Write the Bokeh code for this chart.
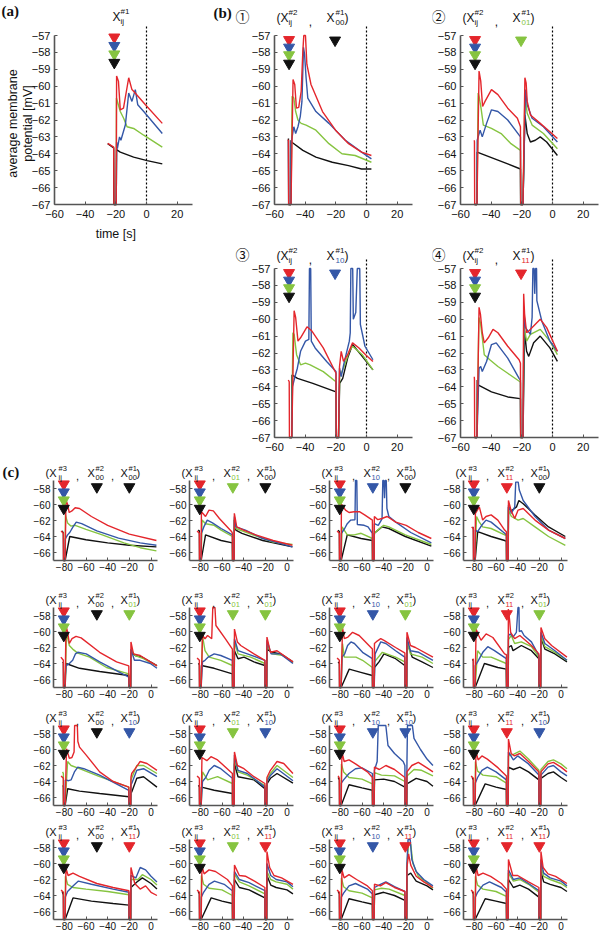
from bokeh.plotting import figure
from bokeh.models import Label, FixedTicker, Spacer, LinearAxis
from bokeh.core.properties import value
from bokeh.layouts import row, column
from bokeh.embed import file_html
from bokeh.resources import INLINE

# ======================= DATA =======================
ART_DEPTH = -67.0            # stimulus artefact runs down to the time axis
IJ_COLORS_ORDER = ["red", "blue", "green", "black"]
CODE_NAMES = {"00": "black", "01": "green", "10": "blue", "11": "red"}

# ---- panel (a) ----
A_STIM = [-20.5]
A_IJ_X = -21.0
A_IJ_Y = [-57.1, -57.6, -58.1, -58.6]
A_RED = [(-25.3, -63.38), (-21.4, -63.6), (-19.5, -59.4), (-18.3, -59.7), (-17.1, -61.4), (-15.0, -61.3),
         (-11.6, -59.5), (-9.5, -60.2), (-8.4, -60.3), (-0.7, -61.1), (10.3, -62.2)]
A_BLUE = [(-19.5, -63.3), (-19.0, -63.7), (-17.6, -63.0), (-16.7, -63.2), (-13.8, -62.3), (-11.6, -60.4),
          (-9.5, -60.9), (-7.3, -60.2), (-5.7, -61.1), (-1.8, -61.5), (10.3, -62.8)]
A_GREEN = [(-19.6, -60.7), (-17.1, -61.5), (-14.9, -61.9), (-12.7, -62.4), (-8.4, -62.5), (-1.8, -62.9),
           (10.3, -63.6)]
A_BLACK = [(-25.3, -63.4), (-21.4, -63.65), (-19.5, -63.75), (-17.1, -63.9), (-8.4, -64.2), (0.4, -64.4),
           (10.3, -64.6)]

# ---- panel (b) ----
B_X1_CODES = ["00", "01", "10", "11"]
B_NUMBERS = ["\u2460", "\u2461", "\u2462", "\u2463"]
B_IJ_X = -50.5
B_X1_X = -20.5
B_IJ_Y = [-57.25, -57.7, -58.15, -58.65]
B_X1_Y = -57.28

B1_STIM = [-50.0]
B1_RED = [(-51.5, -63.2), (-50.9, -63.2), (-47.9, -59.6), (-46.8, -59.9), (-45.7, -61.3), (-44.2, -61.25),
          (-42.6, -60.3), (-41.5, -57.9), (-40.9, -57.0), (-39.8, -57.0), (-38.9, -58.7), (-36.2, -59.9),
          (-28.7, -61.5), (-20.2, -62.6), (-11.7, -63.4), (-3.2, -63.9), (3.2, -64.1)]
B1_BLUE = [(-50.9, -63.2), (-49.2, -63.4), (-47.4, -62.4), (-46.2, -62.8), (-44.7, -62.4), (-43.2, -61.8),
           (-42.1, -60.9), (-41.1, -57.7), (-40.4, -58.1), (-39.4, -59.5), (-38.3, -60.7), (-33.0, -61.5),
           (-24.5, -62.2), (-13.8, -63.2), (-3.2, -63.9), (3.2, -64.3)]
B1_GREEN = [(-48.5, -60.6), (-47.4, -60.7), (-46.2, -61.5), (-44.7, -62.0), (-42.6, -62.2), (-39.4, -62.3),
            (-33.0, -62.6), (-24.5, -63.4), (-16.0, -64.0), (-7.4, -64.1), (3.2, -64.5)]
B1_BLACK = [(-50.9, -63.1), (-49.2, -63.2), (-48.9, -63.3), (-41.5, -63.8), (-33.0, -64.2), (-22.3, -64.5),
            (-11.7, -64.7), (-3.2, -64.9), (3.2, -64.9)]

B2_STIM = [-50.0, -20.0]
B2_RED = [(-51.0, -63.2), (-50.9, -63.3), (-47.9, -59.1), (-46.8, -59.7), (-45.6, -61.2), (-44.0, -60.9),
          (-39.8, -60.2), (-35.6, -60.5), (-29.2, -61.3), (-22.9, -61.9), (-20.9, -62.4), (-18.0, -59.5),
          (-17.2, -59.8), (-16.5, -60.9), (-14.4, -61.7), (-8.0, -62.2), (-1.7, -62.7), (3.2, -63.1)]
B2_BLUE = [(-49.1, -63.2), (-47.2, -62.6), (-45.8, -63.0), (-43.0, -62.2), (-39.8, -61.4), (-35.6, -61.5),
           (-29.2, -62.0), (-20.9, -63.0), (-17.6, -60.2), (-16.5, -61.1), (-13.3, -61.9), (-5.9, -62.4),
           (3.2, -63.3)]
B2_GREEN = [(-48.5, -60.4), (-47.9, -60.6), (-46.6, -61.3), (-45.1, -62.3), (-39.8, -62.5), (-33.5, -62.8),
            (-27.1, -63.4), (-20.9, -63.8), (-18.0, -60.6), (-16.5, -61.6), (-13.3, -62.3), (-5.9, -62.8),
            (3.2, -63.7)]
B2_BLACK = [(-49.1, -63.9), (-46.2, -64.0), (-37.7, -64.3), (-29.2, -64.6), (-20.9, -64.9), (-18.0, -61.7),
            (-16.5, -62.8), (-14.4, -63.3), (-11.2, -63.2), (-8.0, -63.0), (-3.8, -63.3), (3.2, -64.1)]

B3_STIM = [-49.5, -19.0]
B3_RED = [(-51.0, -63.6), (-50.4, -63.7), (-47.2, -59.5), (-46.2, -59.9), (-44.7, -61.3), (-43.0, -61.1),
          (-38.8, -60.45), (-35.6, -60.7), (-28.2, -61.7), (-19.9, -63.2), (-17.6, -62.8), (-16.5, -61.9),
          (-15.0, -62.5), (-12.3, -62.1), (-9.1, -61.4), (-4.9, -61.7), (-0.6, -62.1), (4.2, -62.5)]
B3_BLUE = [(-48.3, -64.0), (-46.8, -63.45), (-45.1, -62.9), (-43.0, -61.9), (-39.8, -61.3), (-37.6, -61.2),
           (-37.2, -57.0), (-36.4, -57.0), (-36.0, -61.3), (-33.5, -61.7), (-26.0, -62.5), (-19.9, -63.1),
           (-17.6, -62.9), (-16.5, -63.4), (-14.4, -62.5), (-11.2, -61.3), (-10.6, -60.8), (-10.2, -57.0),
           (-9.0, -57.0), (-8.6, -60.0), (-7.0, -59.6), (-6.0, -57.0), (-4.4, -57.0), (-4.0, -60.3),
           (-1.0, -61.6), (4.2, -62.4)]
B3_GREEN = [(-48.0, -60.8), (-47.2, -60.9), (-45.6, -62.1), (-43.0, -62.7), (-39.8, -62.6), (-36.7, -62.7),
            (-28.2, -63.1), (-19.9, -63.7), (-17.5, -63.4), (-15.0, -62.9), (-11.2, -61.9), (-9.1, -61.6),
            (-2.8, -62.1), (4.2, -63.0)]
B3_BLACK = [(-48.6, -63.3), (-45.0, -63.5), (-35.0, -63.8), (-19.9, -64.3), (-17.5, -63.8), (-15.5, -63.5),
            (-12.3, -62.3), (-9.1, -61.5), (-2.8, -62.2), (4.2, -63.0)]

B4_STIM = [-50.0, -20.0]
B4_RED = [(-51.0, -63.4), (-50.9, -63.6), (-47.9, -59.3), (-47.0, -59.7), (-45.8, -60.8), (-44.5, -61.4),
          (-41.9, -61.1), (-38.8, -60.6), (-35.6, -60.8), (-29.2, -61.6), (-21.8, -62.4), (-20.9, -62.6),
          (-18.8, -58.5), (-18.2, -59.7), (-16.9, -60.8), (-15.5, -60.7), (-12.3, -60.4), (-8.0, -60.0),
          (-3.8, -60.5), (3.2, -61.9)]
B4_BLUE = [(-47.9, -62.9), (-46.8, -62.8), (-45.8, -63.1), (-43.0, -62.5), (-39.8, -61.5), (-36.7, -61.4),
           (-29.2, -62.3), (-21.8, -63.5), (-20.9, -63.6), (-18.6, -59.7), (-17.6, -60.5), (-14.4, -60.9),
           (-13.3, -59.9), (-12.8, -57.0), (-12.0, -57.0), (-11.6, -58.5), (-11.0, -57.0), (-10.4, -57.0),
           (-10.2, -58.9), (-7.0, -60.1), (-1.7, -61.3), (3.2, -61.9)]
B4_GREEN = [(-48.0, -59.9), (-47.0, -60.2), (-45.8, -61.1), (-44.5, -62.1), (-40.9, -62.4), (-35.6, -62.8),
            (-29.2, -63.2), (-21.2, -63.7), (-20.9, -63.75), (-18.6, -60.4), (-16.9, -61.3), (-14.4, -60.9),
            (-8.0, -60.6), (-1.7, -61.3), (3.2, -62.1)]
B4_BLACK = [(-49.1, -63.6), (-48.3, -63.9), (-39.8, -64.3), (-29.2, -64.6), (-21.2, -64.7), (-20.9, -64.7),
            (-18.2, -60.7), (-16.9, -61.9), (-15.5, -62.2), (-12.3, -61.4), (-8.0, -61.0), (-1.7, -61.7),
            (3.2, -62.5)]

# ---- panel (c) ----
C_X2_CODES = ["00", "01", "10", "11"]    # per column
C_X1_CODES = ["00", "01", "10", "11"]    # per row
C_STIM_TIMES = [-80.0, -49.5, -19.5]      # X#3, X#2, X#1 stimulus times
C_IJ_X = -80.5
C_X2_X = -50.0
C_X1_X = -20.0
C_IJ_Y = [-57.45, -58.45, -59.45, -60.5]
C_X_Y = -57.8

C11_RED = [(-83, -63.3), (-80.9, -63.6), (-78.5, -59.4), (-77, -60.0), (-75.5, -61.0), (-73, -60.8), (-70, -60.4),
           (-66, -60.5), (-55, -61.5), (-40, -62.6), (-20, -63.7), (5, -64.5)]
C11_BLUE = [(-79.1, -64.3), (-77, -63.8), (-75, -63.5), (-72, -62.8), (-69, -62.2), (-64, -62.4), (-50, -63.3),
            (-30, -64.2), (-10, -64.8), (5, -65.1)]
C11_GREEN = [(-79, -61.3), (-77, -62.3), (-74, -62.7), (-70, -62.6), (-60, -63.1), (-45, -63.8), (-25, -64.8),
             (-10, -65.4), (5, -65.8)]
C11_BLACK = [(-82, -63.3), (-80.9, -63.6), (-75, -64.0), (-60, -64.4), (-40, -64.8), (-20, -65.1), (5, -65.3)]

C12_RED = [(-83, -63.3), (-80.9, -63.6), (-79, -60.9), (-75.2, -61.5), (-72, -60.7), (-68, -60.8), (-62.4, -61.75),
           (-51, -63.4), (-50.4, -63.6), (-48.6, -61.1), (-46.4, -62.8), (-40, -63.2), (-28.8, -63.8),
           (-12.8, -64.5), (5, -65.1)]
C12_BLUE = [(-79, -63.6), (-76.8, -62.8), (-73.6, -61.95), (-68.8, -62.3), (-60.8, -63.0), (-50.4, -63.8),
            (-48.6, -61.5), (-47.2, -62.8), (-38.4, -63.2), (-22.4, -64.25), (5, -65.3)]
C12_GREEN = [(-78.4, -61.95), (-75.2, -62.4), (-67.2, -62.6), (-60.8, -63.2), (-50.4, -64.0), (-48.6, -61.75),
             (-47.2, -63.0), (-35.2, -63.6), (-12.8, -64.7), (5, -65.0)]
C12_BLACK = [(-82, -63.2), (-80.9, -63.3), (-75.2, -63.8), (-60.8, -64.5), (-50.4, -64.8), (-48.6, -61.95),
             (-47.2, -63.2), (-41.6, -63.6), (-22.4, -64.5), (5, -65.3)]

C13_RED = [(-83, -63.3), (-80.9, -63.6), (-79, -59.95), (-75.2, -60.7), (-72, -61.0), (-67.2, -60.9),
           (-62.4, -60.9), (-57.6, -61.3), (-50.4, -61.95), (-48.6, -61.5), (-45.4, -61.9), (-41.6, -61.75),
           (-36.8, -61.5), (-28.8, -62.2), (-19.2, -62.6), (-8, -63.5), (4, -64.25)]
C13_BLUE = [(-79, -63.6), (-76, -63.0), (-73.6, -62.4), (-70.4, -61.95), (-66.5, -61.9), (-66, -57.0),
            (-64.8, -57.0), (-64.3, -62.5), (-58, -62.6), (-54.4, -62.8), (-50.4, -63.6), (-48.6, -62.4),
            (-45, -62.6), (-41.5, -61.8), (-40.8, -57.0), (-39.8, -57.0), (-39.2, -59.2), (-38.6, -57.0),
            (-37.6, -57.0), (-37, -60.5), (-35.2, -61.5), (-28.8, -62.2), (-15, -63.5), (4, -64.8)]
C13_GREEN = [(-78.4, -62.8), (-73.6, -63.8), (-67.2, -63.8), (-60.8, -63.6), (-50.4, -64.25), (-48.6, -63.6),
             (-45.4, -63.2), (-40, -62.6), (-35.2, -62.8), (-20, -63.8), (4, -65.0)]
C13_BLACK = [(-82, -63.2), (-80.9, -63.4), (-73.6, -63.8), (-60.8, -64.25), (-50.4, -64.5), (-48.6, -63.6),
             (-41.6, -62.8), (-35.2, -63.0), (-20, -64.0), (4, -65.2)]

C14_RED = [(-82.5, -62.8), (-80.9, -63.0), (-79, -61.1), (-75.4, -60.3), (-72.3, -61.95), (-69.2, -61.5),
           (-64.5, -61.3), (-58.3, -61.95), (-52, -63.2), (-50.4, -63.4), (-48.5, -59.5), (-46, -60.8),
           (-42.7, -61.75), (-39.6, -60.7), (-34.9, -60.5), (-24, -61.95), (-11.5, -63.2), (4, -64.25)]
C14_BLUE = [(-79, -63.2), (-77, -63.4), (-73.2, -62.6), (-69.2, -61.95), (-64.5, -62.2), (-52, -63.6),
            (-50.4, -63.8), (-48.5, -60.1), (-45.8, -61.1), (-42.7, -60.3), (-41.8, -57.2), (-39.5, -57.2),
            (-38.5, -58.2), (-34.9, -59.5), (-24, -61.5), (-11.5, -63.2), (4, -64.25)]
C14_GREEN = [(-78, -61.5), (-75.4, -62.2), (-72.3, -62.8), (-64.5, -63.0), (-52, -63.8), (-50.4, -63.9),
             (-48.5, -60.7), (-45.8, -61.5), (-39.6, -61.95), (-34.9, -61.75), (-24, -62.8), (-11.5, -64.0),
             (4, -65.1)]
C14_BLACK = [(-81.6, -62.8), (-80.9, -63.0), (-76.9, -63.4), (-64.5, -64.0), (-52, -64.5), (-50.4, -64.6),
             (-48.5, -60.3), (-45.8, -60.8), (-41.1, -60.3), (-38.9, -59.5), (-34.9, -59.9), (-24, -61.3),
             (-11.5, -62.8), (4, -64.0)]

C21_RED = [(-83.2, -63.2), (-80.9, -63.6), (-78.5, -59.25), (-76.9, -60.1), (-75.4, -61.5), (-72.9, -60.9),
           (-69.2, -60.6), (-64.5, -60.8), (-47.4, -62.6), (-31.8, -63.8), (-20.5, -64.3), (-18.5, -61.3),
           (-16.2, -62.8), (-10, -63.0), (-0.6, -63.8), (5.5, -64.3)]
C21_BLUE = [(-79.1, -65.5), (-78.5, -64.3), (-75.4, -64.0), (-72.3, -63.6), (-69.8, -62.8), (-67.6, -62.6),
            (-59.8, -62.8), (-47.4, -63.8), (-20.5, -65.7), (-18.5, -62.2), (-15.3, -63.6), (-10, -63.6),
            (-0.6, -64.0), (5.5, -64.6)]
C21_GREEN = [(-78, -60.1), (-75.4, -61.75), (-72.3, -62.2), (-67.6, -62.7), (-56.7, -63.2), (-41.1, -64.5),
             (-20.5, -65.3), (-18.5, -62.3), (-14.6, -63.0), (-6.9, -63.4), (5.5, -64.3)]
C21_BLACK = [(-81.6, -63.8), (-80.9, -63.9), (-78.5, -64.0), (-66, -64.6), (-47.4, -65.0), (-20.5, -65.5),
             (-18.5, -62.6), (-14.6, -63.0), (-8.4, -63.2), (-0.6, -63.8), (5.5, -64.25)]

C22_RED = [(-83, -63.3), (-80.9, -63.6), (-78, -60.5), (-75.7, -60.9), (-73.3, -60.5), (-69.5, -60.9),
           (-68.5, -57.0), (-66.5, -57.0), (-65.6, -59.25), (-57, -60.9), (-50.4, -62.2), (-48.5, -59.7),
           (-45.8, -61.3), (-42.7, -61.75), (-30.5, -62.8), (-20.4, -63.6), (-18.5, -60.7), (-15.3, -62.6),
           (-9.2, -62.4), (5.5, -63.8)]
C22_BLUE = [(-78, -63.8), (-75.7, -63.6), (-72.7, -63.2), (-67.2, -62.8), (-61.1, -63.0), (-50.4, -63.6),
            (-48.5, -60.9), (-45.2, -62.4), (-36.6, -62.8), (-20.4, -63.6), (-18.5, -61.1), (-14.7, -62.8),
            (-6.1, -62.8), (5.5, -64.0)]
C22_GREEN = [(-78, -60.5), (-75.7, -62.4), (-71.8, -63.2), (-61.1, -63.6), (-50.4, -64.25), (-48.5, -61.3),
             (-45.2, -62.8), (-33.6, -63.2), (-20.4, -64.0), (-18.5, -61.75), (-13.7, -62.8), (-3, -63.0),
             (5.5, -63.9)]
C22_BLACK = [(-82, -64.0), (-80.9, -64.1), (-79, -64.25), (-67.2, -64.6), (-50.4, -65.3), (-48.5, -62.4),
             (-45.2, -63.4), (-39.7, -63.2), (-30.5, -63.8), (-20.4, -64.25), (-18.5, -62.2), (-13.7, -62.6),
             (-6.1, -62.8), (5.5, -63.8)]

C23_RED = [(-83, -63.3), (-80.9, -63.6), (-78, -59.5), (-76.3, -60.9), (-73, -60.7), (-68.7, -60.1),
           (-62.6, -60.5), (-50.4, -62.2), (-48.5, -61.5), (-46, -61.2), (-42.7, -60.9), (-39.7, -61.1),
           (-29, -62.0), (-21.4, -62.6), (-20.4, -62.7), (-18.5, -60.1), (-15.3, -61.75), (-10.7, -62.0),
           (5.5, -63.2)]
C23_BLUE = [(-78.5, -63.2), (-76, -62.8), (-73.3, -61.75), (-70.2, -61.3), (-67, -61.5), (-59.5, -62.6),
            (-50.4, -63.4), (-47.9, -62.8), (-42.7, -61.3), (-38, -61.5), (-29, -62.4), (-20.5, -63.2),
            (-18.5, -60.75), (-15.3, -62.4), (-7.6, -62.6), (5.5, -63.6)]
C23_GREEN = [(-78, -61.5), (-76.3, -63.2), (-71.8, -63.2), (-65.6, -63.2), (-59.5, -63.6), (-50.4, -64.5),
             (-48.5, -63.8), (-41.2, -62.6), (-29, -63.2), (-20.5, -63.8), (-18.5, -61.1), (-15.3, -62.8),
             (-4.6, -63.2), (5.5, -64.0)]
C23_BLACK = [(-82, -63.8), (-80.9, -64.0), (-71.8, -64.7), (-61.1, -65.1), (-50.4, -65.5), (-48.5, -64.5),
             (-44.3, -63.8), (-39.7, -62.8), (-29, -63.4), (-20.5, -64.25), (-18.5, -61.3), (-13.7, -63.2),
             (-4.6, -63.8), (5.5, -64.5)]

C24_RED = [(-81.6, -63.4), (-80.9, -63.5), (-78.4, -59.7), (-76, -60.5), (-73.8, -61.1), (-69.1, -60.3),
           (-62.9, -60.75), (-52.1, -62.8), (-50.4, -62.9), (-48.6, -57.2), (-47.5, -58.5), (-46.5, -60.1),
           (-42.8, -60.9), (-38, -60.5), (-27.3, -61.75), (-20.4, -62.8), (-18.5, -59.5), (-14.9, -60.9),
           (-8.7, -61.75), (5.5, -63.2)]
C24_BLUE = [(-79.1, -64.25), (-77, -63.8), (-72.2, -62.6), (-67.6, -61.9), (-61.4, -62.4), (-50.5, -63.4),
            (-48.5, -60.5), (-46.5, -60.3), (-44.3, -60.7), (-41.2, -60.1), (-39.7, -57.0), (-38.8, -57.0),
            (-38.5, -60.0), (-36.6, -59.9), (-34.1, -60.5), (-27.3, -61.3), (-20.4, -63.0), (-18.5, -60.1),
            (-14.9, -61.5), (-5.6, -62.4), (5.5, -63.6)]
C24_GREEN = [(-77, -62.4), (-72.2, -63.2), (-64.5, -63.2), (-50.5, -64.0), (-48.5, -61.0), (-45.9, -60.5),
             (-42.8, -61.5), (-36.6, -61.3), (-27.3, -61.9), (-20.4, -63.2), (-18.5, -60.5), (-14.9, -61.9),
             (-5.6, -62.6), (5.5, -63.6)]
C24_BLACK = [(-82, -63.5), (-80.9, -63.6), (-70.7, -64.0), (-58.3, -64.5), (-50.5, -64.7), (-48.5, -62.0),
             (-45.9, -61.75), (-44.3, -62.4), (-36.6, -61.75), (-27.3, -62.4), (-20.4, -63.4), (-18.5, -60.75),
             (-14.9, -62.2), (-5.6, -62.8), (5.5, -63.8)]

C31_RED = [(-83, -63.3), (-80.9, -63.6), (-78, -59.9), (-75.4, -61.1), (-73, -61.0), (-71, -60.3), (-70.5, -57.0),
           (-68, -57.0), (-67.5, -59.0), (-66, -59.7), (-59.8, -60.7), (-47.4, -62.8), (-34.9, -64.0),
           (-20.5, -64.7), (-18.5, -63.5), (-17.8, -63.0), (-14.6, -62.4), (-10, -61.5), (-3.7, -61.75),
           (5.5, -62.6)]
C31_BLUE = [(-79.1, -63.8), (-76, -63.9), (-73.8, -63.8), (-70.7, -62.8), (-67.6, -62.2), (-62, -62.4),
            (-47.4, -63.2), (-20.5, -65.1), (-18.5, -64.4), (-17.8, -64.25), (-13.1, -62.6), (-6.9, -62.4),
            (5.5, -63.4)]
C31_GREEN = [(-81.6, -62.8), (-80.9, -63.0), (-77, -61.5), (-73.8, -62.0), (-66, -62.4), (-47.4, -63.4),
             (-20.5, -64.7), (-18.5, -63.8), (-13.1, -62.0), (-6.9, -62.0), (5.5, -63.0)]
C31_BLACK = [(-81.6, -64.5), (-80.9, -64.6), (-76.9, -64.9), (-66, -65.2), (-47.4, -65.5), (-20.5, -65.9),
             (-18.5, -65.4), (-17.8, -65.3), (-13.1, -63.6), (-6.9, -63.4), (5.5, -64.7)]

C32_RED = [(-83, -63.3), (-80.9, -63.6), (-78.5, -61.0), (-74, -61.4), (-70.2, -60.9), (-64.1, -61.3),
           (-50.4, -63.0), (-48.5, -60.3), (-45.8, -62.0), (-39.7, -62.4), (-30.5, -63.4), (-20.4, -64.25),
           (-18.5, -63.5), (-15.3, -62.6), (-9.2, -61.5), (-3, -61.75), (5.5, -63.0)]
C32_BLUE = [(-78, -64.0), (-75, -63.5), (-71.8, -62.6), (-67.2, -62.0), (-61.1, -62.4), (-50.4, -63.6),
            (-48.5, -60.7), (-45.2, -62.6), (-36.6, -63.0), (-20.4, -64.7), (-18.5, -64.0), (-15.3, -63.25),
            (-9.2, -62.4), (5.5, -63.9)]
C32_GREEN = [(-78, -62.8), (-73.3, -63.8), (-64.1, -63.4), (-50.4, -64.25), (-48.5, -61.1), (-45.2, -62.8),
             (-36.6, -63.2), (-20.4, -64.5), (-18.5, -63.8), (-15.3, -63.0), (-9.2, -62.0), (5.5, -63.5)]
C32_BLACK = [(-82, -64.5), (-80.9, -64.6), (-79, -64.7), (-67.2, -65.1), (-50.4, -65.5), (-48.5, -61.75),
             (-45.2, -63.4), (-30.5, -63.8), (-20.4, -64.9), (-18.5, -64.3), (-15.3, -63.6), (-9.2, -63.0),
             (5.5, -64.2)]

C33_RED = [(-82, -63.3), (-80.9, -63.6), (-78.5, -60.3), (-76.5, -61.5), (-72, -61.3), (-66, -61.8), (-55, -62.8),
           (-50.4, -63.5), (-48.5, -62.2), (-44, -62.5), (-38, -62.0), (-30, -62.5), (-20.4, -63.5), (-18.5, -62.8),
           (-14, -62.0), (-8, -61.6), (0, -62.3), (5.5, -62.8)]
C33_BLUE = [(-79.1, -64.2), (-77, -63.8), (-72, -63.0), (-66, -62.4), (-60, -62.3), (-50.4, -63.0), (-48.5, -62.6),
            (-46, -61.5), (-45, -57.0), (-38, -57.0), (-36, -59.5), (-30, -60.5), (-22, -61.5), (-20.4, -62.0),
            (-18.5, -61.5), (-18, -57.0), (-13.5, -57.0), (-12, -58.6), (-6, -60.0), (0, -61.2), (5.5, -62.0)]
C33_GREEN = [(-79, -61.8), (-77, -62.8), (-72, -63.5), (-60, -63.7), (-50.4, -64.3), (-48.5, -62.9), (-42, -63.2),
             (-30, -63.3), (-20.4, -64.0), (-18.5, -63.3), (-12, -62.5), (-5, -62.6), (5.5, -63.3)]
C33_BLACK = [(-82, -63.5), (-80.9, -63.8), (-72, -64.4), (-60, -64.8), (-50.4, -65.1), (-48.5, -63.8), (-40, -63.7),
             (-30, -64.0), (-20.4, -64.7), (-18.5, -64.3), (-10, -63.6), (0, -64.0), (5.5, -64.6)]

C34_RED = [(-83, -63.3), (-80.9, -63.6), (-78.5, -60.2), (-76.5, -61.3), (-73, -60.8), (-68, -61.2), (-58, -62.3),
           (-50.4, -63.3), (-48.5, -58.7), (-46, -60.5), (-43, -60.8), (-38, -60.5), (-30, -61.5), (-20.4, -62.8),
           (-18.5, -62.8), (-12, -61.8), (-7, -61.6), (0, -62.2), (5.5, -62.8)]
C34_BLUE = [(-79.1, -64.2), (-77, -63.5), (-73, -62.6), (-68, -62.2), (-60, -62.8), (-50.4, -63.8), (-48.5, -60.3),
            (-44, -61.3), (-40, -60.8), (-30, -61.8), (-20.4, -63.2), (-18.5, -63.2), (-12, -62.2), (-7, -62.0),
            (0, -62.8), (5.5, -63.3)]
C34_GREEN = [(-79, -61.5), (-77, -62.7), (-72, -63.2), (-60, -63.4), (-50.4, -64.2), (-48.5, -60.8), (-44, -60.6),
             (-38, -60.2), (-30, -61.2), (-20.4, -62.6), (-18.5, -62.5), (-12, -61.5), (-7, -61.3), (0, -61.8),
             (5.5, -62.4)]
C34_BLACK = [(-82, -63.5), (-80.9, -63.8), (-70, -64.3), (-60, -64.7), (-50.4, -65.0), (-48.5, -62.2), (-44, -62.5),
             (-38, -62.2), (-30, -62.8), (-20.4, -63.8), (-18.5, -63.6), (-12, -63.0), (-7, -62.8), (0, -63.5),
             (5.5, -64.0)]

C41_RED = [(-83, -63.3), (-80.9, -63.6), (-78.5, -60.6), (-76.5, -61.5), (-72, -61.2), (-66, -61.6), (-50, -62.5),
           (-35, -63.0), (-20.4, -63.4), (-18.5, -60.5), (-15, -62.5), (-10, -63.2), (-5, -62.8), (0, -63.6),
           (5.5, -64.0)]
C41_BLUE = [(-79.1, -64.2), (-77, -63.5), (-72, -62.8), (-67, -62.2), (-55, -62.6), (-35, -63.2), (-20.4, -63.6),
            (-18.5, -61.5), (-14, -61.8), (-10, -60.5), (-5, -60.8), (0, -61.6), (5.5, -62.3)]
C41_GREEN = [(-79, -61.6), (-77, -62.6), (-72, -63.0), (-60, -63.2), (-40, -63.5), (-20.4, -63.9), (-18.5, -62.0),
             (-12, -62.0), (-8, -61.4), (0, -62.0), (5.5, -62.7)]
C41_BLACK = [(-82, -63.5), (-80.9, -63.9), (-72, -64.3), (-55, -64.7), (-35, -65.0), (-20.4, -65.2),
             (-18.5, -63.0), (-12, -62.2), (-8, -61.8), (0, -62.5), (5.5, -63.2)]

C42_RED = [(-83, -63.3), (-80.9, -63.6), (-78.5, -60.3), (-76.5, -61.3), (-72, -60.8), (-66, -61.0), (-55, -62.0),
           (-50.4, -62.8), (-48.5, -60.2), (-44, -61.5), (-38, -61.6), (-30, -62.2), (-20.4, -63.0), (-18.5, -58.5),
           (-16, -60.5), (-12, -61.5), (-5, -61.8), (5.5, -62.6)]
C42_BLUE = [(-79.1, -64.2), (-77, -63.6), (-72, -62.6), (-67, -62.2), (-58, -62.6), (-50.4, -63.4), (-48.5, -61.0),
            (-44, -62.0), (-35, -62.4), (-20.4, -63.4), (-18.5, -60.0), (-15, -61.5), (-10, -62.0), (0, -62.3),
            (5.5, -62.9)]
C42_GREEN = [(-79, -61.5), (-77, -62.6), (-72, -63.1), (-60, -63.3), (-50.4, -64.0), (-48.5, -61.3), (-44, -62.3),
             (-35, -62.8), (-20.4, -63.8), (-18.5, -61.0), (-15, -62.0), (-10, -62.3), (0, -62.6), (5.5, -63.2)]
C42_BLACK = [(-82, -63.5), (-80.9, -63.8), (-70, -64.3), (-60, -64.7), (-50.4, -65.0), (-48.5, -62.0), (-44, -63.0),
             (-35, -63.3), (-20.4, -64.3), (-18.5, -61.5), (-15, -62.7), (-10, -63.0), (0, -63.3), (5.5, -63.8)]

C43_RED = [(-83, -63.3), (-80.9, -63.6), (-78.5, -60.8), (-76.5, -61.8), (-72, -61.4), (-65, -62.0), (-55, -62.8),
           (-50.4, -63.4), (-48.5, -62.6), (-43, -62.8), (-38, -62.4), (-30, -63.0), (-20.4, -63.5), (-18.5, -60.5),
           (-17, -58.8), (-15, -60.2), (-10, -61.6), (-3, -62.3), (5.5, -63.0)]
C43_BLUE = [(-79.1, -64.2), (-77, -63.7), (-72, -62.8), (-66, -62.5), (-55, -63.2), (-50.4, -63.8), (-48.5, -63.0),
            (-43, -62.6), (-38, -62.3), (-30, -62.9), (-20.4, -63.5), (-18.5, -60.0), (-17.5, -57.0), (-15.5, -57.0),
            (-14, -59.5), (-10, -61.0), (-3, -62.0), (5.5, -62.8)]
C43_GREEN = [(-79, -61.8), (-77, -62.9), (-72, -63.4), (-60, -63.7), (-50.4, -64.3), (-48.5, -63.3), (-42, -63.1),
             (-35, -63.2), (-20.4, -64.0), (-18.5, -60.5), (-17, -57.3), (-15, -57.6), (-13, -60.0), (-8, -61.6),
             (0, -62.4), (5.5, -63.1)]
C43_BLACK = [(-82, -63.5), (-80.9, -63.8), (-72, -64.4), (-60, -64.8), (-50.4, -65.1), (-48.5, -63.9), (-40, -63.6),
             (-30, -64.0), (-20.4, -64.6), (-18.5, -61.5), (-15, -61.2), (-10, -62.2), (0, -62.8), (5.5, -63.3)]

C44_RED = [(-83, -63.3), (-80.9, -63.6), (-78.5, -60.3), (-76.5, -61.5), (-72, -61.2), (-65, -61.6), (-55, -62.5),
           (-50.4, -63.2), (-48.5, -59.5), (-44.5, -61.5), (-40, -61.5), (-30, -62.3), (-20.4, -63.0), (-18.5, -58.5),
           (-16.5, -60.5), (-12, -61.3), (-5, -61.6), (5.5, -62.5)]
C44_BLUE = [(-79.1, -64.2), (-77, -63.6), (-72, -62.7), (-66, -62.3), (-55, -63.0), (-50.4, -63.6), (-48.5, -60.8),
            (-44, -62.0), (-38, -61.8), (-30, -62.5), (-20.4, -63.4), (-18.5, -59.5), (-16, -61.2), (-10, -61.8),
            (0, -62.2), (5.5, -62.8)]
C44_GREEN = [(-79, -61.6), (-77, -62.7), (-72, -63.2), (-60, -63.5), (-50.4, -64.1), (-48.5, -61.2), (-44, -62.2),
             (-38, -62.0), (-30, -62.6), (-20.4, -63.6), (-18.5, -60.3), (-16, -61.6), (-10, -62.0), (0, -62.5),
             (5.5, -63.0)]
C44_BLACK = [(-82, -63.5), (-80.9, -63.8), (-70, -64.4), (-60, -64.7), (-50.4, -65.0), (-48.5, -62.0), (-44, -63.0),
             (-38, -62.7), (-30, -63.2), (-20.4, -64.2), (-18.5, -61.0), (-16, -62.3), (-10, -62.6), (0, -63.0),
             (5.5, -63.5)]

AB_XTICKS = [-60, -40, -20, 0, 20]
AB_YTICKS = [-57, -58, -59, -60, -61, -62, -63, -64, -65, -66, -67]
C_XTICKS = [-80, -60, -40, -20, 0]
C_YTICKS = [-58, -60, -62, -64, -66]
Y_LABEL_LINES = ["average membrane", "potential [mV]"]
X_LABEL = "time [s]"

# ======================= STYLE / LAYOUT =======================
PALETTE = {"red": "#e4262c", "blue": "#3457a7", "green": "#86c440", "black": "#111111"}
AXIS_COLOR = "#555555"
SANS = "Liberation Sans"
ART_HALF_WIDTH = 0.75

AB_X_IN = (-60, 30)                      # data extent of the plotting area
AB_SY = 16.9                             # px per mV
AB_Y_IN = (-67, -67 + 180 / AB_SY)       # plotting area is 180 px tall
C_X_IN = (-90, 6)
C_Y_IN = (-67, -56.5)


class Geo:
    def __init__(self, w, h, l, r, t, b, xin, yin):
        self.w, self.h, self.l, self.r, self.t, self.b = w, h, l, r, t, b
        self.sx = (w - l - r) / (xin[1] - xin[0])
        self.sy = (h - t - b) / (yin[1] - yin[0])
        self.xr = (xin[0] - l / self.sx, xin[1] + r / self.sx)
        self.yr = (yin[0] - b / self.sy, yin[1] + t / self.sy)
        self.xin, self.yin = xin, yin

    def line57(self):
        # px above the canvas bottom of the -57 mV level
        return self.b + (-57 - self.yin[0]) * self.sy

    def dx(self, px):
        return self.xr[0] + px / self.sx

    def dy(self, px):
        return self.yr[0] + px / self.sy


def with_artifacts(points, stims):
    xs = [p[0] for p in points]
    ys = [p[1] for p in points]
    for s in stims:
        i = 0
        while i < len(xs) and xs[i] <= s:
            i += 1
        xs[i:i] = [s - ART_HALF_WIDTH, s + ART_HALF_WIDTH]
        ys[i:i] = [ART_DEPTH, ART_DEPTH]
    return xs, ys


def base_fig(g, xticks, yticks, fpx, std_x, std_y):
    p = figure(width=g.w, height=g.h, x_range=g.xr, y_range=g.yr, output_backend="svg",
               toolbar_location=None, x_axis_location=None, y_axis_location=None,
               min_border_left=0, min_border_right=0, min_border_top=0, min_border_bottom=0)
    p.outline_line_color = None
    p.xgrid.visible = False
    p.ygrid.visible = False
    xa = LinearAxis(fixed_location=g.yin[0], bounds=g.xin, ticker=FixedTicker(ticks=xticks))
    ya = LinearAxis(fixed_location=g.xin[0], bounds=(-67, -57), ticker=FixedTicker(ticks=yticks))
    for ax in (xa, ya):
        ax.axis_line_color = AXIS_COLOR
        ax.axis_line_width = 1.6
        ax.major_tick_line_color = AXIS_COLOR
        ax.major_tick_in = 3
        ax.major_tick_out = 0
        ax.minor_tick_line_color = None
        ax.major_label_text_font = SANS
        ax.major_label_text_font_size = f"{fpx}px"
        ax.major_label_text_color = "#111111"
    xa.major_label_standoff = std_x
    ya.major_label_standoff = std_y
    p.add_layout(xa, "below")
    p.add_layout(ya, "left")
    return p


def lab(p, sx, sy, text, size, color="#111111", align="left", baseline="middle", font=SANS,
        style="normal"):
    """sx: px from the canvas left edge, sy: px above the canvas bottom edge."""
    p.add_layout(Label(x=sx, y=sy, x_units="screen", y_units="screen", text=text,
                       text_font_size=f"{size}px", text_color=color,
                       text_align=align, text_baseline=baseline, text_font=font,
                       text_font_style=style))


def draw_traces(p, red, blue, green, black, stims):
    for pts, name in ((black, "black"), (green, "green"), (blue, "blue"), (red, "red")):
        xs, ys = with_artifacts(pts, stims)
        p.line(xs, ys, line_color=PALETTE[name], line_width=1.4)


def draw_ij(p, x, ys, size):
    p.scatter([x] * len(ys), ys, marker="inverted_triangle", size=size,
              color=[PALETTE[c] for c in IJ_COLORS_ORDER])


# ---------------- panel (a) ----------------
ga = Geo(210, 242, 54, 18, 24, 38, AB_X_IN, AB_Y_IN)
fa = base_fig(ga, AB_XTICKS, AB_YTICKS, 11, 5, 4)
fa.line([0, 0], [-67, AB_Y_IN[1]], line_color="black", line_width=1.2, line_dash="2 2")
draw_traces(fa, A_RED, A_BLUE, A_GREEN, A_BLACK, A_STIM)
draw_ij(fa, A_IJ_X, A_IJ_Y, 11)
top_a = ga.line57()
lab(fa, ga.l + 58, top_a + 19, "X", 12)
lab(fa, ga.l + 66, top_a + 24, "#1", 8)
lab(fa, ga.l + 66, top_a + 14, "ij", 8)
lab(fa, 1, ga.h - 10, "(a)", 15, font="Liberation Serif", style="bold")
lab(fa, ga.l + (-20 - AB_X_IN[0]) * ga.sx, ga.b - 29, X_LABEL, 12.5, align="center")
fa.text(x=[ga.dx(12.5), ga.dx(27.5)], y=[ga.dy(ga.h - 123)] * 2, text=Y_LABEL_LINES, angle=1.5708,
        text_align="center", text_baseline="middle", text_font=value(SANS), text_font_size="12.5px",
        text_color="#111111")

# ---------------- panel (b) ----------------
B_TRACES = [(B1_RED, B1_BLUE, B1_GREEN, B1_BLACK, B1_STIM),
            (B2_RED, B2_BLUE, B2_GREEN, B2_BLACK, B2_STIM),
            (B3_RED, B3_BLUE, B3_GREEN, B3_BLACK, B3_STIM),
            (B4_RED, B4_BLUE, B4_GREEN, B4_BLACK, B4_STIM)]

b_figs = []
for k in range(4):
    left_col = (k % 2 == 0)
    top_row = (k < 2)
    w, lft, rgt = (222, 64, 20) if left_col else (170, 28, 4)
    h, tp, bt = (242, 24, 38) if top_row else (214, 15, 19)
    g = Geo(w, h, lft, rgt, tp, bt, AB_X_IN, AB_Y_IN)
    p = base_fig(g, AB_XTICKS, AB_YTICKS, 11, 5, 4)
    p.line([0, 0], [-67, AB_Y_IN[1]], line_color="black", line_width=1.2, line_dash="2 2")
    r, b, gg, kk, st = B_TRACES[k]
    draw_traces(p, r, b, gg, kk, st)
    draw_ij(p, B_IJ_X, B_IJ_Y, 11)
    code = B_X1_CODES[k]
    p.scatter([B_X1_X], [B_X1_Y], marker="inverted_triangle", size=11, color=PALETTE[CODE_NAMES[code]])
    ty = g.line57() + (18 if top_row else 13)
    L = g.l
    lab(p, L + 2, ty, "(X", 12)
    lab(p, L + 14, ty + 5, "#2", 8)
    lab(p, L + 14, ty - 5, "ij", 8)
    lab(p, L + 36, ty - 4, ",", 12, align="center")
    lab(p, L + 52, ty, "X", 12)
    lab(p, L + 61, ty + 5, "#1", 8)
    lab(p, L + 61, ty - 5, code, 8, color=PALETTE[CODE_NAMES[code]])
    lab(p, L + 70, ty, ")", 12)
    ndx = -32 if left_col else -22
    lab(p, L + ndx, ty + 2, B_NUMBERS[k], 14, align="center", font="Noto Sans CJK JP")
    if k == 0:
        lab(p, L - 61, g.h - 12, "(b)", 15, font="Liberation Serif", style="bold")
    b_figs.append(p)

# ---------------- panel (c) ----------------
C_TRACES = {
    (0, 0): (C11_RED, C11_BLUE, C11_GREEN, C11_BLACK), (0, 1): (C12_RED, C12_BLUE, C12_GREEN, C12_BLACK),
    (0, 2): (C13_RED, C13_BLUE, C13_GREEN, C13_BLACK), (0, 3): (C14_RED, C14_BLUE, C14_GREEN, C14_BLACK),
    (1, 0): (C21_RED, C21_BLUE, C21_GREEN, C21_BLACK), (1, 1): (C22_RED, C22_BLUE, C22_GREEN, C22_BLACK),
    (1, 2): (C23_RED, C23_BLUE, C23_GREEN, C23_BLACK), (1, 3): (C24_RED, C24_BLUE, C24_GREEN, C24_BLACK),
    (2, 0): (C31_RED, C31_BLUE, C31_GREEN, C31_BLACK), (2, 1): (C32_RED, C32_BLUE, C32_GREEN, C32_BLACK),
    (2, 2): (C33_RED, C33_BLUE, C33_GREEN, C33_BLACK), (2, 3): (C34_RED, C34_BLUE, C34_GREEN, C34_BLACK),
    (3, 0): (C41_RED, C41_BLUE, C41_GREEN, C41_BLACK), (3, 1): (C42_RED, C42_BLUE, C42_GREEN, C42_BLACK),
    (3, 2): (C43_RED, C43_BLUE, C43_GREEN, C43_BLACK), (3, 3): (C44_RED, C44_BLUE, C44_GREEN, C44_BLACK),
}
COL_GEOM = [(160, 53, 3), (140, 29, 7), (136, 29, 3), (166, 27, 35)]
ROW_GEOM = [(132, 20, 28), (118, 15, 19), (116, 15, 17), (112, 13, 15)]

c_rows = []
for ri in range(4):
    figs = []
    for ci in range(4):
        w, lft, rgt = COL_GEOM[ci]
        h, tp, bt = ROW_GEOM[ri]
        g = Geo(w, h, lft, rgt, tp, bt, C_X_IN, C_Y_IN)
        p = base_fig(g, C_XTICKS, C_YTICKS, 10, 2, 3)
        x2 = C_X2_CODES[ci]
        x1 = C_X1_CODES[ri]
        stims = [C_STIM_TIMES[0]]
        if x2 != "00":
            stims.append(C_STIM_TIMES[1])
        if x1 != "00":
            stims.append(C_STIM_TIMES[2])
        r, b, gg, kk = C_TRACES[(ri, ci)]
        draw_traces(p, r, b, gg, kk, stims)
        draw_ij(p, C_IJ_X, C_IJ_Y, 11)
        p.scatter([C_X2_X, C_X1_X], [C_X_Y, C_X_Y], marker="inverted_triangle", size=11,
                  color=[PALETTE[CODE_NAMES[x2]], PALETTE[CODE_NAMES[x1]]])
        ty = g.line57() + 8
        L = g.l
        lab(p, L - 8, ty, "(X", 11)
        lab(p, L + 5, ty + 4.5, "#3", 7.5)
        lab(p, L + 5, ty - 4.5, "ij", 7.5)
        lab(p, L + 24, ty - 3, ",", 11, align="center")
        lab(p, L + 34, ty, "X", 11)
        lab(p, L + 42, ty + 4.5, "#2", 7.5)
        lab(p, L + 42, ty - 4.5, x2, 7.5, color=PALETTE[CODE_NAMES[x2]])
        lab(p, L + 59, ty - 3, ",", 11, align="center")
        lab(p, L + 67, ty, "X", 11)
        lab(p, L + 75, ty + 4.5, "#1", 7.5)
        lab(p, L + 75, ty - 4.5, x1, 7.5, color=PALETTE[CODE_NAMES[x1]])
        lab(p, L + 83, ty, ")", 11)
        if ri == 0 and ci == 0:
            lab(p, 2, ty + 1, "(c)", 15, font="Liberation Serif", style="bold")
        figs.append(p)
    c_rows.append(row(*figs))

layout = column(
    row(fa, b_figs[0], b_figs[1]),
    row(Spacer(width=210, height=214), b_figs[2], b_figs[3]),
    *c_rows,
)

open("out.html", "w").write(file_html(layout, INLINE))
